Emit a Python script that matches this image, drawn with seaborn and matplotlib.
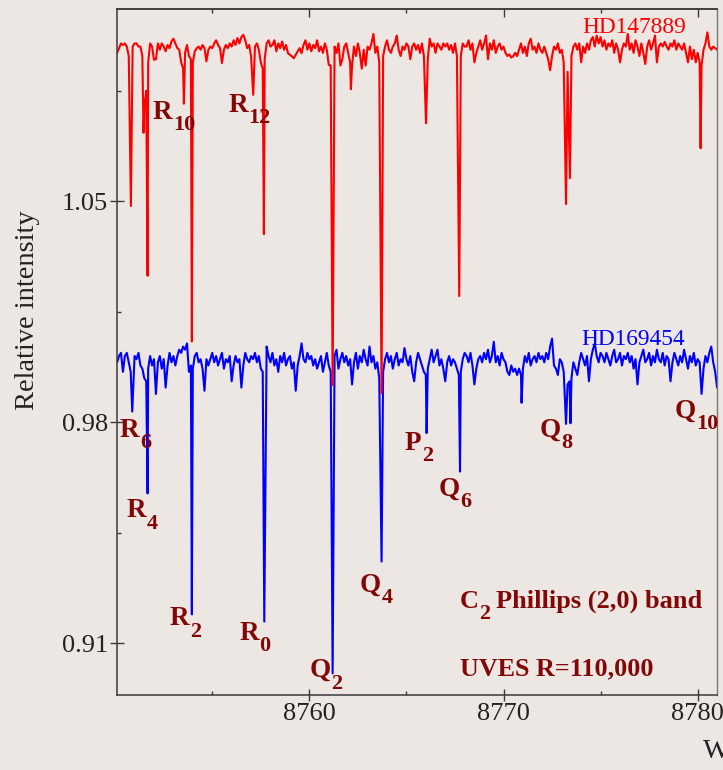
import numpy as np
import pandas as pd
import matplotlib
matplotlib.use("Agg")
import matplotlib.pyplot as plt
import seaborn as sns

# ---------------------------------------------------------------------------
# Spectra: continuum samples on a uniform wavelength grid (per mille of the
# relative intensity) plus the absorption-line minima of the C2 band.
# ---------------------------------------------------------------------------
WL_START = 8750.1   # Angstrom, first continuum sample
WL_STEP = 0.1       # Angstrom between continuum samples

# HD147889 (shifted up by 0.1 for display)
red_continuum = [
    1097, 1098.5, 1100, 1099.5, 1100, 1099, 1096, 1095, 1099, 1100,
    1100, 1099, 1099, 1096, 1080, 1085, 1094, 1100, 1099, 1094.8,
    1095, 1100, 1098, 1100, 1099, 1097.5, 1099.5, 1098.5, 1100.6, 1101.5,
    1100, 1098.5, 1098, 1094, 1092, 1097, 1099.5, 1096, 1095, 1094,
    1097.5, 1098.5, 1099, 1098, 1099.5, 1098.5, 1094.3, 1098, 1099, 1098.5,
    1100, 1101, 1099.5, 1098.5, 1093.8, 1098, 1099.5, 1098.5, 1100, 1099,
    1101, 1099.5, 1101.7, 1100, 1102, 1102.7, 1101, 1098.5, 1099.5, 1096,
    1094, 1099, 1100, 1098, 1094, 1092, 1095, 1100, 1101, 1099,
    1099.5, 1101, 1097.5, 1100, 1098.5, 1100.6, 1098, 1099.5, 1096.9, 1096.4,
    1095.9, 1095.3, 1096.4, 1097.5, 1098.5, 1096.9, 1099.5, 1101, 1098, 1100,
    1097.5, 1099.5, 1098.5, 1101, 1097.5, 1099, 1097, 1100, 1098, 1093.2,
    1093, 1096, 1099, 1097, 1100, 1093, 1095, 1099, 1100, 1097,
    1094, 1093, 1099, 1096, 1100, 1097, 1092, 1098, 1093, 1099,
    1098, 1100, 1103, 1097, 1099, 1094, 1095, 1096, 1099, 1101,
    1098, 1097, 1099, 1100, 1102.5, 1098, 1096, 1099, 1098, 1100,
    1099, 1095, 1099, 1100, 1098, 1099.5, 1097, 1100, 1096, 1094,
    1095, 1101.5, 1099, 1100, 1097, 1100, 1099, 1098, 1100, 1099,
    1100, 1098, 1099.5, 1097, 1100, 1096, 1094, 1096, 1100, 1099,
    1099, 1101, 1098, 1100, 1094, 1097, 1099, 1101, 1098, 1100,
    1102.5, 1095, 1100, 1098, 1101, 1097, 1099, 1100, 1098, 1099,
    1097, 1096, 1096.5, 1095.5, 1096, 1097, 1096, 1098, 1100, 1097,
    1099, 1096, 1100, 1101.5, 1098, 1099, 1097, 1100, 1098, 1097,
    1099, 1097, 1095, 1091.5, 1096, 1099, 1098, 1100, 1097, 1098,
    1094, 1085, 1091, 1085, 1096, 1099, 1100, 1098, 1100, 1094,
    1099, 1097, 1100, 1098, 1101, 1102, 1099, 1102.5, 1100, 1102,
    1099, 1101, 1098, 1100, 1099, 1101, 1097, 1100, 1098, 1094,
    1098, 1100, 1099, 1103, 1098, 1100, 1097, 1101, 1099, 1096,
    1100, 1097, 1093.5, 1099, 1101, 1098, 1100, 1102.5, 1094, 1099,
    1100, 1099, 1100.5, 1099, 1098, 1100, 1099, 1101, 1098, 1100,
    1099, 1098, 1100, 1097, 1094, 1099, 1095, 1098, 1094, 1097,
    1094, 1093, 1098, 1100, 1103.5, 1099, 1098, 1099, 1098.5, 1098,
]
red_line_wl = [8750.81, 8751.46, 8751.67, 8753.54, 8753.95, 8757.11, 8757.66,
               8761.20, 8762.14, 8763.72, 8766.01, 8767.72, 8773.22, 8773.42,
               8780.15]
red_line_min = [1048.5, 1071.7, 1026.4, 1080.9, 1005.6, 1083.7, 1039.6,
                991.8, 1085.5, 989.2, 1074.7, 1020.0, 1049.1, 1057.3,
                1066.8]

# HD169454
blue_continuum = [
    999, 1001, 1002, 996, 1001, 1002, 999, 996, 997, 1001,
    1000, 1002, 998, 997, 994, 993, 997, 1001, 998, 1000,
    989, 999, 1001, 997, 1000, 991, 998, 1002, 999, 1001,
    998, 1001, 1003, 1002, 1004, 1003, 1005, 996, 998, 997,
    1001, 1002, 999, 1000, 997, 990, 1000, 998, 1000, 1002,
    999, 1001, 998, 1000, 1002, 997, 1000, 999, 1001, 993,
    998, 1001, 999, 1000, 991, 998, 1002, 1000, 999, 1001,
    1000, 1002, 999, 1001, 997, 996, 1000, 1004, 1001, 999,
    1002, 998, 1000, 996, 1001, 999, 1002, 998, 1000, 1001,
    997, 999, 990, 998, 1001, 1005, 1000, 999, 1002, 1000,
    1001, 998, 1000, 997, 999, 1001, 996, 999, 1002, 998,
    996, 995, 1001, 1003, 997, 1000, 1002, 999, 1001, 998,
    1000, 992, 999, 1002, 997, 1001, 999, 1003, 1000, 998,
    1004, 999, 1001, 997, 999, 994, 993, 996, 1000, 1002,
    999, 1001, 997, 1000, 1002, 998, 1000, 999, 1003.5, 1000,
    998, 1001, 996, 993, 999, 1002, 1000, 998, 996, 995,
    997, 1000, 1003, 999, 1001, 1003, 998, 1000, 997, 993,
    999, 1001, 998, 1000, 999, 997, 995, 996, 1000, 1002,
    1001, 999, 1002, 998, 992, 997, 1000, 1001, 999, 1002,
    1000, 1003, 999, 1001, 1005.5, 999, 1001, 998, 1002, 1000,
    999, 996, 995, 998, 996, 997, 995, 997, 995, 997,
    1001, 999, 1002, 998, 1000, 1001, 999, 1002, 1000, 1001,
    999, 1002, 1000, 1004, 1006.5, 998, 997, 995, 1000, 999,
    996, 993, 992, 993, 994, 999, 997, 995, 999, 1002,
    1000, 998, 1001, 993, 1000, 1003, 1005, 1001, 999, 1002,
    1001, 999, 1002, 1000, 998, 1001, 1003, 999, 1000, 1002,
    998, 1001, 1000, 1002, 999, 1001, 997, 1000, 992, 999,
    1001, 1003, 999, 1000, 1002, 998, 1001, 999, 1003, 1000,
    999, 1002, 998, 1001, 1000, 993, 999, 1002, 1000, 998,
    1001, 999, 1003, 1000, 997, 1001, 999, 1002, 998, 1000,
    999, 996, 997, 1001, 999, 1002, 1004, 999, 996, 991,
]
blue_line_wl = [8750.88, 8751.67, 8753.95, 8757.68, 8761.20, 8763.72, 8766.04,
                8767.76, 8770.93, 8773.22, 8773.45, 8780.20]
blue_line_min = [983.4, 957.5, 919.2, 916.9, 900.5, 935.9, 976.6,
                 964.4, 986.2, 979.5, 979.7, 989.0]

# Line identifications: branch, J'', wavelength and intensity of the label
line_ids = [
    ("R", "10", 8751.94, 1.0761), ("R", "12", 8755.82, 1.0783),
    ("R", "6", 8750.245, 0.9754), ("R", "4", 8750.59, 0.9500),
    ("R", "2", 8752.82, 0.9158), ("R", "0", 8756.39, 0.9111),
    ("Q", "2", 8759.99, 0.8993), ("Q", "4", 8762.61, 0.9263),
    ("P", "2", 8764.92, 0.9713), ("Q", "6", 8766.64, 0.9567),
    ("Q", "8", 8771.88, 0.9754), ("Q", "10", 8778.83, 0.9814),
]

x_major = [8760, 8770, 8780]
x_minor = [8755, 8765, 8775]
y_major = [0.91, 0.98, 1.05]
y_minor = [0.945, 1.015, 1.085]


def build_spectrum(continuum, line_wl, line_min):
    wl = WL_START + WL_STEP * np.arange(len(continuum))
    flux = np.asarray(continuum, float) / 1000.0
    lw = np.asarray(line_wl, float)
    keep = np.array([np.min(np.abs(lw - w)) > 0.025 for w in wl])
    x = np.concatenate([wl[keep], lw])
    y = np.concatenate([flux[keep], np.asarray(line_min, float) / 1000.0])
    order = np.argsort(x)
    return pd.DataFrame({"wavelength": x[order], "intensity": y[order]})


red_df = build_spectrum(red_continuum, red_line_wl, red_line_min)
blue_df = build_spectrum(blue_continuum, blue_line_wl, blue_line_min)

# ---------------------------------------------------------------------------
BG = "#ece7e3"
DARK_RED = "#820808"
INK = "#222222"
SPINE = "#3a3a3a"

sns.set_theme(style="ticks")
plt.rcParams.update({
    "font.family": ["Liberation Serif", "DejaVu Serif"],
    "figure.facecolor": BG,
    "axes.facecolor": BG,
    "savefig.facecolor": BG,
    "text.color": INK,
    "xtick.color": INK,
    "ytick.color": INK,
})

fig = plt.figure(figsize=(7.23, 7.70), dpi=100)
ax = fig.add_axes([0.1625, 0.0968, 0.8288, 0.8911])

sns.lineplot(data=blue_df, x="wavelength", y="intensity", color="#0000ff",
             linewidth=1.5, estimator=None, sort=False, ax=ax)
sns.lineplot(data=red_df, x="wavelength", y="intensity", color="#ff0000",
             linewidth=1.5, estimator=None, sort=False, ax=ax)

ax.set_xlim(8750.12, 8780.98)
ax.set_ylim(0.8935, 1.1108)
ax.set_xlabel("")
ax.set_ylabel("")

ax.set_xticks(x_major, labels=[str(v) for v in x_major])
ax.set_xticks(x_minor, minor=True)
ax.set_yticks(y_major, labels=[f"{v:.2f}" for v in y_major])
ax.set_yticks(y_minor, minor=True)

ax.tick_params(axis="x", which="major", direction="inout", length=8.5,
               width=1.0, labelsize=19, pad=1.0, colors=SPINE, labelcolor=INK)
ax.tick_params(axis="y", which="major", direction="inout", length=10.5,
               width=1.0, labelsize=19, pad=1.5, colors=SPINE, labelcolor=INK)
ax.tick_params(axis="both", which="minor", direction="in", length=3.0,
               width=1.0, colors=SPINE)

for side in ["left", "bottom", "top"]:
    ax.spines[side].set_color(SPINE)
    ax.spines[side].set_linewidth(1.1)
ax.spines["right"].set_color("#777777")
ax.spines["right"].set_linewidth(1.0)

# inward ticks along the top edge
top = ax.secondary_xaxis("top")
top.set_xticks(x_major, labels=["" for _ in x_major])
top.set_xticks(x_minor, minor=True)
top.tick_params(axis="x", which="major", direction="in", length=5.8,
                width=1.0, colors=SPINE)
top.tick_params(axis="x", which="minor", direction="in", length=3.0,
                width=1.0, colors=SPINE)
top.spines["top"].set_color(SPINE)
top.spines["top"].set_linewidth(1.1)

label_kw = dict(color=DARK_RED, fontweight="bold", ha="left", va="baseline")


def subscripted(x, y, main, sub, transform, size=19.5, sub_size=16):
    t = ax.text(x, y, main, transform=transform, fontsize=size, **label_kw)
    s = ax.annotate(sub, xy=(1, 0), xycoords=t, xytext=(0.3, -4.0),
                    textcoords="offset points", fontsize=sub_size, **label_kw)
    return t, s


for branch, j, wl, inten in line_ids:
    subscripted(wl, inten, branch, j, ax.transData)

c_txt, c_sub = subscripted(0.5716, 0.1275, "C", "2", ax.transAxes,
                           size=19, sub_size=16)
ax.annotate("Phillips (2,0) band", xy=(1, 0), xycoords=(c_sub, c_txt),
            xytext=(4.0, 0), textcoords="offset points", fontsize=19,
            color=DARK_RED, fontweight="bold", ha="left", va="bottom")
ax.text(0.5716, 0.0299, "UVES R=110,000", transform=ax.transAxes,
        fontsize=18.8, **label_kw)

ax.text(0.7764, 0.9655, "HD147889", transform=ax.transAxes, fontsize=16.8,
        color="#ff0000", ha="left", va="baseline")
ax.text(0.7747, 0.5108, "HD169454", transform=ax.transAxes, fontsize=16.8,
        color="#0000ff", ha="left", va="baseline")

fig.text(0.0387, 0.597, "Relative intensity", rotation=90, ha="center",
         va="center", fontsize=20.5, color=INK)
fig.text(703 / 723, 1 - 758 / 770, "Wavelength (Å)", ha="left",
         va="baseline", fontsize=20.5, color=INK)

fig.savefig("out.png", dpi=100)
